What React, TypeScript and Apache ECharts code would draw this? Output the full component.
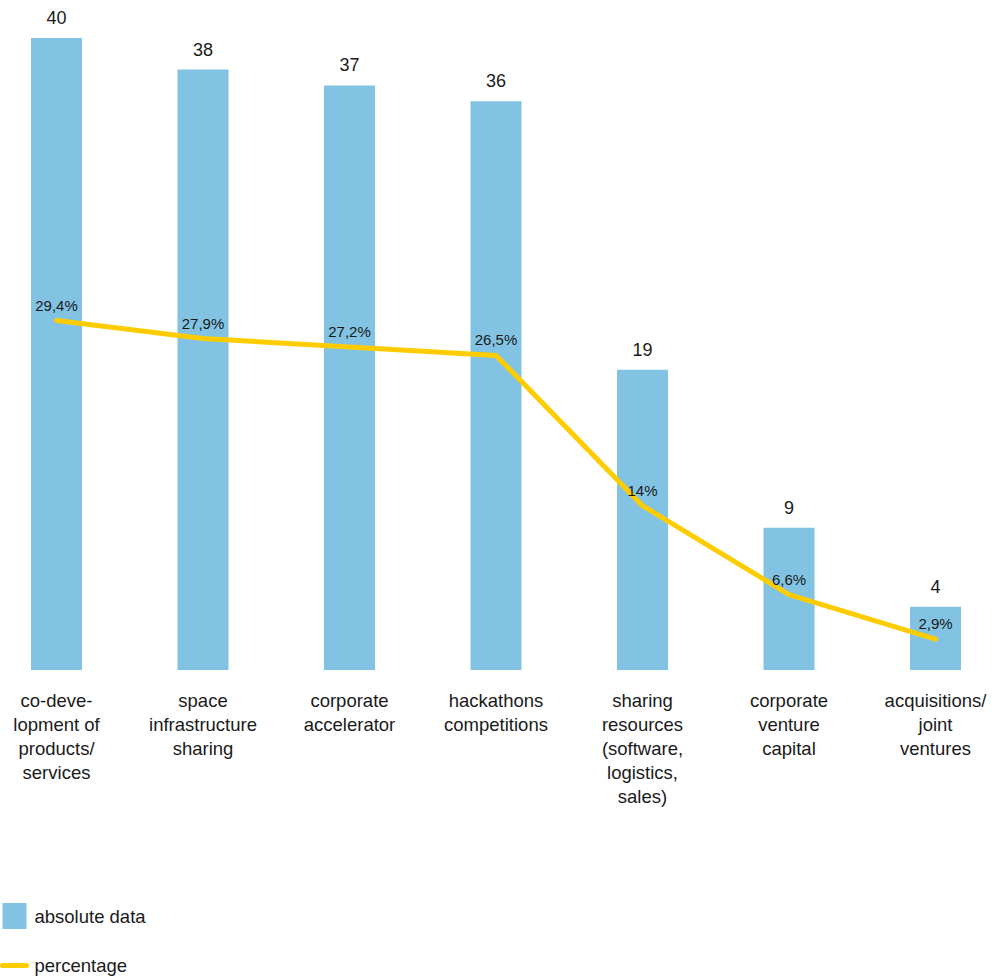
import React, { useEffect, useRef } from 'react';
import * as echarts from 'echarts';

const categories = [
  'co-deve-\nlopment of\nproducts/\nservices',
  'space\ninfrastructure\nsharing',
  'corporate\naccelerator',
  'hackathons\ncompetitions',
  'sharing\nresources\n(software,\nlogistics,\nsales)',
  'corporate\nventure\ncapital',
  'acquisitions/\njoint\nventures',
];
const absoluteData = [40, 38, 37, 36, 19, 9, 4];
const percentageData = [29.4, 27.9, 27.2, 26.5, 14, 6.6, 2.9];
const seriesNames = ['absolute data', 'percentage'];

const FONT = '"Liberation Sans", Arial, Helvetica, sans-serif';
const BAR_COLOR = '#82C3E3';
const LINE_COLOR = '#FFCC00';
const TEXT_COLOR = '#1a1a1a';

export default function App() {
  const ref = useRef<HTMLDivElement>(null);
  useEffect(() => {
    if (!ref.current) return;
    const chart = echarts.init(ref.current, undefined, { renderer: 'svg' });
    chart.setOption({
      animation: false,
      textStyle: { fontFamily: FONT },
      grid: { left: 56.5, right: 56.5, top: 38, bottom: 309, containLabel: false },
      legend: {
        orient: 'vertical',
        left: 0,
        top: 903,
        height: 100,
        padding: 0,
        itemWidth: 24,
        itemHeight: 26,
        itemGap: 26,
        textStyle: { fontSize: 18.5, color: TEXT_COLOR, fontFamily: FONT, padding: [0, 0, 0, 3] },
        data: [
          { name: seriesNames[0], icon: 'rect' },
          {
            name: seriesNames[1],
            itemStyle: { opacity: 0 },
            lineStyle: { width: 5, cap: 'round', color: LINE_COLOR },
          },
        ],
      },
      xAxis: {
        type: 'category',
        data: categories,
        boundaryGap: false,
        axisLine: { show: false },
        axisTick: { show: false },
        splitLine: { show: false },
        axisLabel: {
          interval: 0,
          margin: 18,
          fontSize: 18.5,
          lineHeight: 24,
          color: TEXT_COLOR,
          fontFamily: FONT,
          align: 'center',
        },
      },
      yAxis: [
        { type: 'value', min: 0, max: 40, show: false, splitLine: { show: false } },
        { type: 'value', min: 0.33, max: 52.9, show: false, splitLine: { show: false } },
      ],
      series: [
        {
          name: seriesNames[0],
          type: 'bar',
          data: absoluteData,
          barWidth: 51,
          clip: false,
          itemStyle: { color: BAR_COLOR },
          label: {
            show: true,
            position: 'top',
            distance: 11,
            fontSize: 18,
            color: TEXT_COLOR,
            fontFamily: FONT,
          },
        },
        {
          name: seriesNames[1],
          type: 'line',
          yAxisIndex: 1,
          data: percentageData,
          symbol: 'circle',
          symbolSize: 0,
          clip: false,
          lineStyle: { color: LINE_COLOR, width: 5, cap: 'round', join: 'round' },
          itemStyle: { color: LINE_COLOR },
          label: {
            show: true,
            position: 'top',
            distance: 8,
            fontSize: 15,
            color: TEXT_COLOR,
            fontFamily: FONT,
            formatter: (p: any) => String(p.value).replace('.', ',') + '%',
          },
        },
      ],
    });
    return () => chart.dispose();
  }, []);
  return (
    <div
      ref={ref}
      style={{ position: 'fixed', left: 0, top: 0, width: 992, height: 979, background: '#fff' }}
    />
  );
}
